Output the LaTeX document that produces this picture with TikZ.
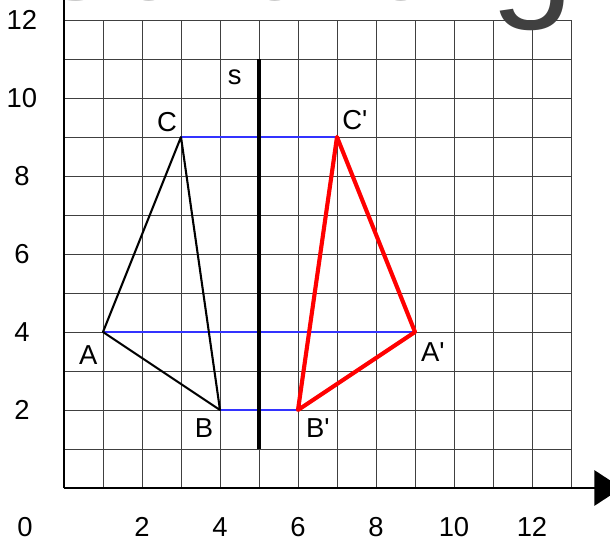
\documentclass[tikz,border=0pt]{standalone}
\usepackage{fontspec}
\setmainfont{Liberation Sans}
\usetikzlibrary{arrows.meta}

\begin{document}
\begin{tikzpicture}[
    lbl/.style={font=\fontsize{20}{20}\selectfont, inner sep=0pt},
    gridline/.style={black!75, line width=0.7pt},
    axisline/.style={black, line width=1.9pt},
    proj/.style={blue!80, line width=0.8pt},
    orig/.style={black, line width=1.5pt, line join=round},
    image/.style={red, line width=3pt, line join=round}]
    \useasboundingbox (-1.641,-1.385) rectangle (14.0,12.513);

    % washed out title, mostly cut off
    \node[anchor=base east, inner sep=0pt, black!45,
          font=\fontsize{110}{110}\selectfont] (title) at (13.1,12.52)
          {sdfdfdf\textcolor{black!75}{g}};

    \draw[gridline] (0,0) grid (13,12);

    \coordinate (A) at (1,4);
    \coordinate (B) at (4,2);
    \coordinate (C) at (3,9);
    \coordinate (A') at (9,4);
    \coordinate (B') at (6,2);
    \coordinate (C') at (7,9);

    \draw[proj] (C) -- (C');
    \draw[proj] (A) -- (A');
    \draw[proj] (B) -- (B');

    \draw[orig] (A) -- (B) -- (C) -- cycle;
    \draw[image] (A') -- (B') -- (C') -- cycle;

    \coordinate (s0) at (5,1);
    \coordinate (s1) at (5,11);
    \draw[black, line width=2.2pt] (s0) -- (s1);

    \coordinate (O) at (0,0);
    \coordinate (xend) at (14.3,0);
    \coordinate (yend) at (0,12.7);
    \draw[axisline, -{Triangle[length=0.7cm,width=0.9cm]}] (O) -- (xend);
    \draw[axisline] (O) -- (yend);

    \node[lbl] (lA) at (0.62,3.41) {A};
    \node[lbl] (lB) at (3.59,1.54) {B};
    \node[lbl] (lC) at (2.64,9.38) {C};
    \node[lbl] (lA') at (9.46,3.49) {A\textquotesingle};
    \node[lbl] (lB') at (6.51,1.54) {B\textquotesingle};
    \node[lbl] (lC') at (7.46,9.44) {C\textquotesingle};
    \node[lbl] (ls) at (4.38,10.54) {s};

    \node[lbl] (x0) at (-1.0,-1.0) {0};
    \foreach \x in {2,4,...,12}
        \node[lbl] (x\x) at (\x,-1.0) {\x};
    \foreach \y in {2,4,...,12}
        \node[lbl] (y\y) at (-1.08,\y) {\y};
\end{tikzpicture}
\end{document}
